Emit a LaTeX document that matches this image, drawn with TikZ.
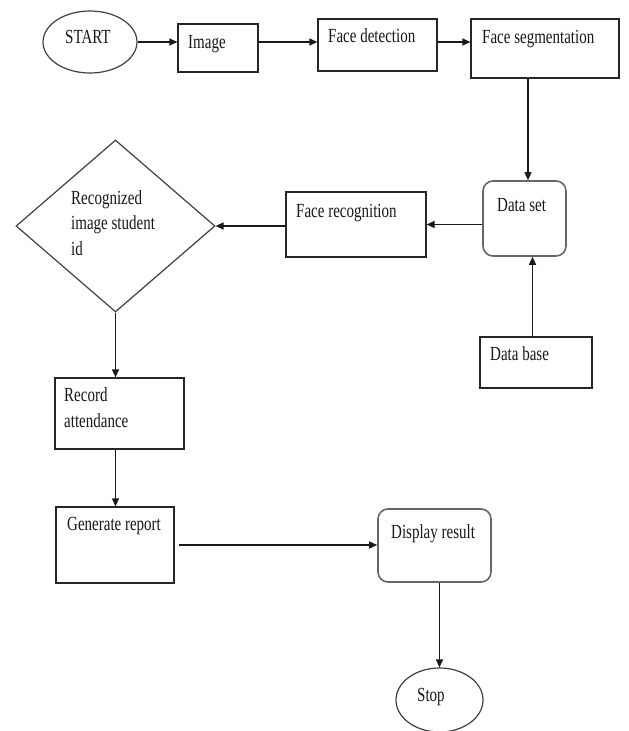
\documentclass[tikz,border=0pt]{standalone}
\usepackage{fontspec}
\setmainfont[FakeStretch=0.75]{Liberation Serif}
\usetikzlibrary{arrows.meta,shapes.geometric}
\begin{document}
\begin{tikzpicture}[x=1pt,y=-1pt,
  box/.style={draw=black!85,line width=1.2pt,rectangle,inner sep=0pt},
  rbox/.style={draw=black!60,line width=1.6pt,rectangle,rounded corners=10pt,inner sep=0pt},
  oval/.style={draw=black!75,line width=1.2pt,ellipse,inner sep=0pt},
  dia/.style={draw=black!75,line width=1.2pt,diamond,inner sep=0pt},
  txt/.style={anchor=base west,inner sep=0pt,font=\fontsize{20pt}{25.5pt}\selectfont,text=black!90},
  arr/.style={draw=black!90,line width=1.2pt,-{Triangle[length=8pt,width=7pt]}}]
\useasboundingbox[fill=white] (0,0) rectangle (629,731);

% shapes
\node[oval,minimum width=94pt,minimum height=62pt] (start) at (90,42) {};
\node[box,minimum width=80pt,minimum height=48pt] (img) at (218,48) {};
\node[box,minimum width=119pt,minimum height=52pt] (fdet) at (377.5,45) {};
\node[box,minimum width=148pt,minimum height=59pt] (fseg) at (545,48.5) {};
\node[rbox,minimum width=83pt,minimum height=75pt] (dset) at (524.5,218.5) {};
\node[box,minimum width=140pt,minimum height=65pt] (frec) at (356,224.5) {};
\node[dia,minimum width=199pt,minimum height=172pt] (diam) at (115.5,226) {};
\node[box,minimum width=112pt,minimum height=51pt] (dbase) at (536,362.5) {};
\node[box,minimum width=129pt,minimum height=71pt] (rec) at (119.5,413.5) {};
\node[box,minimum width=118pt,minimum height=76pt] (gen) at (115,545) {};
\node[rbox,minimum width=113pt,minimum height=73pt] (disp) at (434.5,545.5) {};
\node[oval,minimum width=87pt,minimum height=64pt] (stop) at (439.5,700) {};

% texts
\node[txt] (t-start) at (65,43) {START};
\node[txt] (t-img) at (188,48) {Image};
\node[txt] (t-fdet) at (328,42) {Face detection};
\node[txt] (t-fseg) at (482,43) {Face segmentation};
\node[txt] (t-dset) at (497,211) {Data set};
\node[txt] (t-frec) at (296,217) {Face recognition};
\node[txt] (t-diam) at (71,204) {\vtop{\baselineskip=25.5pt\hbox{Recognized}\hbox{image student}\hbox{id}}};
\node[txt] (t-dbase) at (490,360) {Data base};
\node[txt] (t-rec) at (64,401) {\vtop{\baselineskip=26pt\hbox{Record}\hbox{attendance}}};
\node[txt] (t-gen) at (67,530) {Generate report};
\node[txt] (t-disp) at (391,538) {Display result};
\node[txt] (t-stop) at (417,701) {Stop};

% connectors
\draw[arr] (start.east) -- (start.east -| img.west);
\draw[arr] (img.east |- start.east) -- (fdet.west |- start.east);
\draw[arr] (fdet.east |- start.east) -- (fseg.west |- start.east);
\draw[arr] ([xshift=3.5pt]dset.north |- fseg.south) -- ([xshift=3.5pt]dset.north);
\draw[arr] (dset.west |- frec.east) -- (frec.east);
\draw[arr] (frec.west |- diam.east) -- (diam.east);
\draw[arr] (diam.south) -- (diam.south |- rec.north);
\draw[arr] (rec.south -| diam.south) -- (gen.north -| diam.south);
\draw[arr] ([xshift=4pt]gen.east) -- (disp.west |- gen.east);
\draw[arr] (disp.south -| stop.north) -- (stop.north);
\draw[arr] ([xshift=-3.5pt]dbase.north) -- ([xshift=-3.5pt]dbase.north |- dset.south);
\end{tikzpicture}
\end{document}
